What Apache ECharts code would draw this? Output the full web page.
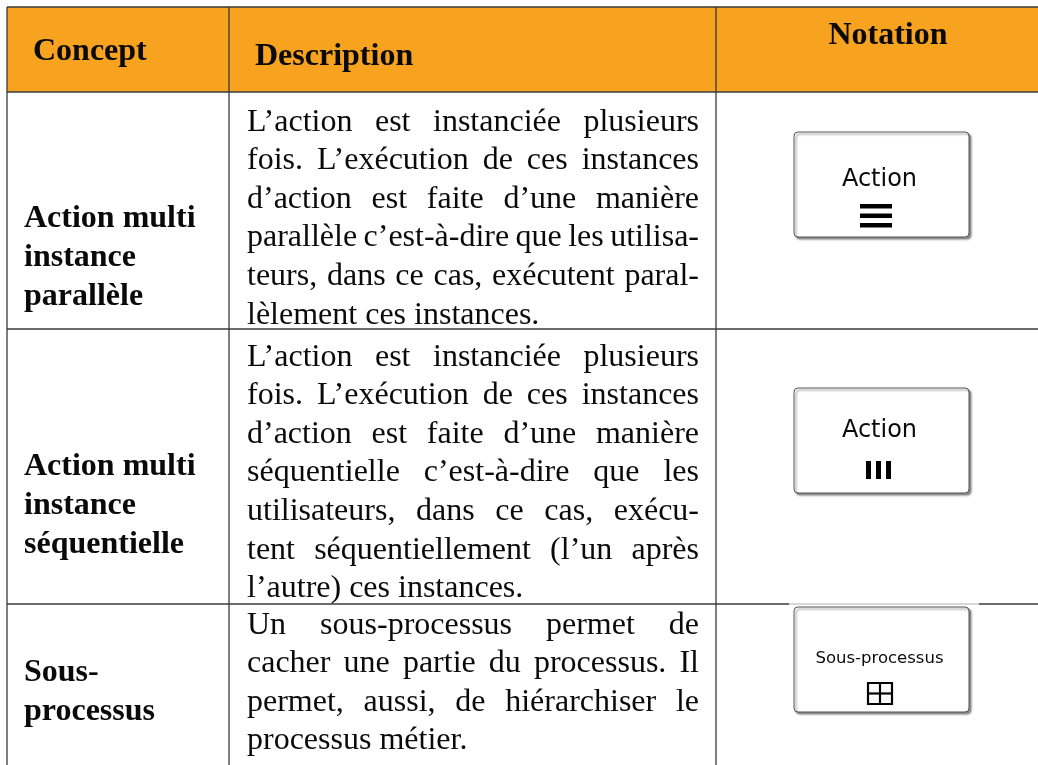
<!DOCTYPE html>
<html>
<head>
<meta charset="utf-8">
<script src="https://cdn.jsdelivr.net/npm/echarts@6/dist/echarts.min.js"></script>
<style>
html,body{margin:0;padding:0;background:#fff;}
#main{width:1038px;height:765px;}
</style>
</head>
<body>
<div id="main"></div>
<script>
// ---------- DATA ----------
const headers = ['Concept', 'Description', 'Notation'];
const concepts = [
  ['Action multi', 'instance', 'parallèle'],
  ['Action multi', 'instance', 'séquentielle'],
  ['Sous-', 'processus']
];
const descriptions = [
  ['L’action est instanciée plusieurs',
   'fois. L’exécution de ces instances',
   'd’action est faite d’une manière',
   'parallèle c’est-à-dire que les utilisa-',
   'teurs, dans ce cas, exécutent paral-',
   'lèlement ces instances.'],
  ['L’action est instanciée plusieurs',
   'fois. L’exécution de ces instances',
   'd’action est faite d’une manière',
   'séquentielle c’est-à-dire que les',
   'utilisateurs, dans ce cas, exécu-',
   'tent séquentiellement (l’un après',
   'l’autre) ces instances.'],
  ['Un sous-processus permet de',
   'cacher une partie du processus. Il',
   'permet, aussi, de hiérarchiser le',
   'processus métier.']
];
const notationLabels = ['Action', 'Action', 'Sous-processus'];
const notationMarkers = ['parallel', 'sequential', 'subprocess'];

// ---------- LAYOUT / STYLE ----------
const L = {
  left: 7, top: 7, col1: 229, col2: 716, right: 1040, bottom: 780,
  headerBottom: 92, rowBottoms: [329, 604],
  descLeft: 247, descRight: 699,
  conceptLeft: 24,
  lineStep: 38.6,
  descFirstBaseline: [133, 368, 636],
  conceptFirstBaseline: [230, 478, 684],
  headerX: [33, 255, 888], headerBaseline: [63, 68, 47],
  boxLeft: 794, boxW: 175, boxH: 105, boxTop: [132, 388, 607],
  labelY: [180, 431, 659], labelSize: [24, 24, 16.5],
  markerTop: [204, 461, 683], markerCx: 876
};
const serif = '"Liberation Serif", "Times New Roman", serif';
const sans = '"DejaVu Sans", sans-serif';
const FS = 32;
const headerColor = '#F7A320';
const lineColor = '#3a3a3a';
const textColor = '#0a0a0a';

const cv = document.createElement('canvas').getContext('2d');
function tw(text, font) { cv.font = font; return cv.measureText(text).width; }
function midFromBaseline(b, fs) { return b - 0.337 * fs; }

const els = [];
// header background
els.push({ type: 'rect', shape: { x: L.left, y: L.top, width: L.right - L.left, height: L.headerBottom - L.top },
  style: { fill: headerColor }, z: 0 });

// header texts
headers.forEach((h, i) => {
  els.push({ type: 'text', x: L.headerX[i], y: midFromBaseline(L.headerBaseline[i], FS), z: 5,
    style: { text: h, font: 'bold ' + FS + 'px ' + serif, fill: textColor,
      textAlign: i === 2 ? 'center' : 'left', textVerticalAlign: 'middle' } });
});

// concepts
concepts.forEach((lines, r) => {
  lines.forEach((t, k) => {
    els.push({ type: 'text', x: L.conceptLeft, y: midFromBaseline(L.conceptFirstBaseline[r] + k * L.lineStep, FS), z: 5,
      style: { text: t, font: 'bold ' + FS + 'px ' + serif, fill: textColor, textAlign: 'left', textVerticalAlign: 'middle' } });
  });
});

// descriptions (justified)
const bodyFont = FS + 'px ' + serif;
const W = L.descRight - L.descLeft;
descriptions.forEach((lines, r) => {
  lines.forEach((t, k) => {
    const y = midFromBaseline(L.descFirstBaseline[r] + k * L.lineStep, FS);
    const last = k === lines.length - 1;
    const words = t.split(' ');
    if (last || words.length < 2) {
      els.push({ type: 'text', x: L.descLeft, y: y, z: 5,
        style: { text: t, font: bodyFont, fill: textColor, textAlign: 'left', textVerticalAlign: 'middle' } });
    } else {
      const widths = words.map(w => tw(w, bodyFont));
      const total = widths.reduce((a, b) => a + b, 0);
      const gap = (W - total) / (words.length - 1);
      let x = L.descLeft;
      words.forEach((w, j) => {
        els.push({ type: 'text', x: x, y: y, z: 5,
          style: { text: w, font: bodyFont, fill: textColor, textAlign: 'left', textVerticalAlign: 'middle' } });
        x += widths[j] + gap;
      });
    }
  });
});

// notation boxes
notationLabels.forEach((lab, r) => {
  const bx = L.boxLeft, by = L.boxTop[r];
  els.push({ type: 'rect', shape: { x: bx, y: by, width: L.boxW, height: L.boxH, r: 4 }, z: 3,
    style: { fill: '#fff', stroke: '#555', lineWidth: 1,
      shadowBlur: 2, shadowOffsetX: 2, shadowOffsetY: 2, shadowColor: 'rgba(0,0,0,0.45)' } });
  els.push({ type: 'text', x: bx + L.boxW / 2 - 2, y: L.labelY[r], z: 5,
    style: { text: lab, font: L.labelSize[r] + 'px ' + sans, fill: textColor, textAlign: 'center', textVerticalAlign: 'middle' } });
  const m = notationMarkers[r], my = L.markerTop[r], cx = L.markerCx;
  if (m === 'parallel') {
    for (let i = 0; i < 3; i++) {
      els.push({ type: 'rect', shape: { x: cx - 16, y: my + i * 9.5, width: 32, height: 4.5 }, z: 5, style: { fill: '#000' } });
    }
  } else if (m === 'sequential') {
    for (let i = 0; i < 3; i++) {
      els.push({ type: 'rect', shape: { x: cx - 10 + i * 10, y: my, width: 5, height: 18 }, z: 5, style: { fill: '#000' } });
    }
  } else {
    const s = 21, x0 = cx - 8, y0 = my;
    els.push({ type: 'rect', shape: { x: x0, y: y0, width: s + 3, height: s }, z: 5,
      style: { fill: 'none', stroke: '#000', lineWidth: 2.2 } });
    els.push({ type: 'line', shape: { x1: x0 + (s + 3) / 2, y1: y0, x2: x0 + (s + 3) / 2, y2: y0 + s }, z: 5,
      style: { stroke: '#000', lineWidth: 2.2 } });
    els.push({ type: 'line', shape: { x1: x0, y1: y0 + s / 2, x2: x0 + s + 3, y2: y0 + s / 2 }, z: 5,
      style: { stroke: '#000', lineWidth: 2.2 } });
  }
});

// grid lines
function hline(y, x1, x2, color, w) {
  els.push({ type: 'line', shape: { x1: x1, y1: y, x2: x2, y2: y }, z: 4, style: { stroke: color || lineColor, lineWidth: w || 1.3 } });
}
function vline(x, y1, y2) {
  els.push({ type: 'line', shape: { x1: x, y1: y1, x2: x, y2: y2 }, z: 4, style: { stroke: lineColor, lineWidth: 1.3 } });
}
hline(L.top, L.left, L.right);
hline(L.headerBottom, L.left, L.right);
hline(L.rowBottoms[0], L.left, L.right);
hline(L.rowBottoms[1], L.left, 789);
hline(L.rowBottoms[1], 789, 979, '#b0b0b0', 1);
hline(L.rowBottoms[1], 979, L.right);
vline(L.left, L.top, L.bottom);
vline(L.col1, L.top, L.bottom);
vline(L.col2, L.top, L.bottom);

const chart = echarts.init(document.getElementById('main'), null, { renderer: 'canvas' });
chart.setOption({ backgroundColor: '#fff', animation: false, graphic: { elements: els } });
</script>
</body>
</html>
